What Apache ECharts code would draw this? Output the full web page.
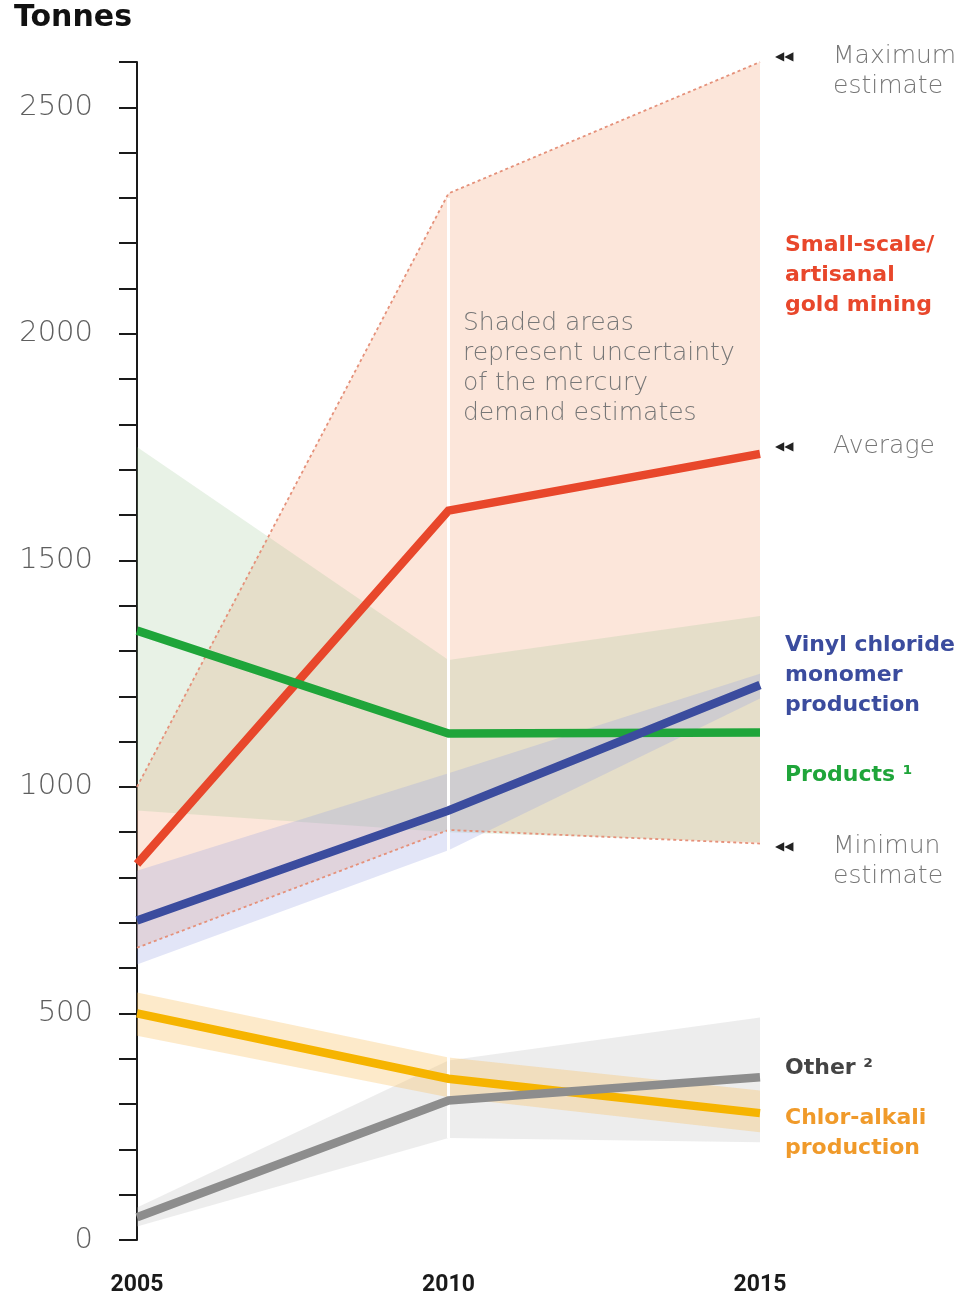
<!DOCTYPE html>
<html>
<head>
<meta charset="utf-8">
<script src="https://cdn.jsdelivr.net/npm/echarts@6/dist/echarts.min.js"></script>
<style>
html,body{margin:0;padding:0;background:#fff;}
#chart{width:980px;height:1303px;}
</style>
</head>
<body>
<div id="chart"></div>
<script>
// ---- data ----
var years = ['2005', '2010', '2015'];
var yTicks = [0, 500, 1000, 1500, 2000, 2500];

var mining     = [830, 1610, 1735];
var miningMax  = [1000, 2310, 2600];
var miningMin  = [645, 905, 875];

var products     = [1345, 1118, 1120];
var productsHigh = [1750, 1280, 1377];
var productsLow  = [948, 900, 878];

var vcm     = [705, 948, 1225];
var vcmHigh = [815, 1030, 1250];
var vcmLow  = [608, 860, 1195];

var chlor     = [500, 356, 280];
var chlorHigh = [546, 403, 330];
var chlorLow  = [451, 315, 238];

var other     = [50, 308, 359];
var otherHigh = [72, 396, 491];
var otherLow  = [30, 225, 216];

function diff(a, b) { return a.map(function (v, i) { return v - b[i]; }); }

function band(id, low, high, color) {
  return [
    { name: id + 'Low', type: 'line', stack: id, data: low, symbol: 'none', z: 1,
      lineStyle: { width: 0, opacity: 0 }, silent: true },
    { name: id + 'Band', type: 'line', stack: id, data: diff(high, low), symbol: 'none', z: 1,
      lineStyle: { width: 0, opacity: 0 }, areaStyle: { color: color, opacity: 1 }, silent: true }
  ];
}

function mainLine(name, data, color, z) {
  return { name: name, type: 'line', data: data, symbol: 'none', z: z,
    lineStyle: { color: color, width: 8.5, cap: 'butt', join: 'miter' } };
}

function dashLine(name, data) {
  return { name: name, type: 'line', data: data, symbol: 'none', z: 3,
    lineStyle: { color: '#e5917a', width: 1.8, type: [3, 3] } };
}

var series = [];
series = series.concat(band('mining', miningMin, miningMax, 'rgba(248,188,158,0.38)'));
series = series.concat(band('products', productsLow, productsHigh, 'rgba(150,195,140,0.22)'));
series = series.concat(band('vcm', vcmLow, vcmHigh, 'rgba(150,160,225,0.28)'));
series = series.concat(band('other', otherLow, otherHigh, 'rgba(190,190,190,0.28)'));
series = series.concat(band('chlor', chlorLow, chlorHigh, 'rgba(250,190,90,0.32)'));
series.push({
  name: 'sep', type: 'line', data: [], z: 2, symbol: 'none',
  markLine: { silent: true, symbol: 'none', label: { show: false },
    lineStyle: { color: '#ffffff', width: 3, type: 'solid' },
    data: [[{ xAxis: '2010', yAxis: 2300 }, { xAxis: '2010', yAxis: 225 }]] }
});
series.push(dashLine('max', miningMax));
series.push(dashLine('min', miningMin));
series.push(mainLine('Small-scale/artisanal gold mining', mining, '#e8472b', 5));
series.push(mainLine('Products', products, '#1fa53a', 6));
series.push(mainLine('Vinyl chloride monomer production', vcm, '#3b4c9e', 7));
series.push(mainLine('Chlor-alkali production', chlor, '#f6b400', 8));
series.push(mainLine('Other', other, '#8d8d8d', 9));

var boldFont = '"DejaVu Sans", "Open Sans", sans-serif';
var lightFont = '"DejaVu Sans", "Open Sans", sans-serif';
function txt(x, y, text, opts) {
  var st = Object.assign({ text: text, fontFamily: lightFont, fontSize: 20,
    fill: '#808080', lineHeight: 30 }, opts || {});
  return { type: 'text', left: x, top: y, style: st, z: 20 };
}
function light(x, y, text) {
  return txt(x, y, text, { fontWeight: 200, fontSize: 25, fill: '#777' });
}
function bold(x, y, text, color) {
  return txt(x, y, text, { fontFamily: boldFont, fontWeight: 'bold', fontSize: 22, fill: color });
}
function arrows(x, y) {
  return { type: 'text', left: x, top: y,
    style: { text: '◀◀', fontFamily: 'DejaVu Sans', fontSize: 12, fill: '#222' }, z: 20 };
}

var chart = echarts.init(document.getElementById('chart'), null, { renderer: 'canvas' });
chart.setOption({
  animation: false,
  backgroundColor: '#ffffff',
  grid: { left: 137, right: 220, top: 62, bottom: 63, containLabel: false },
  xAxis: {
    type: 'category', data: years, boundaryGap: false,
    axisLine: { show: false }, axisTick: { show: false }, splitLine: { show: false },
    axisLabel: { margin: 34, fontFamily: '"Liberation Sans Narrow", "Roboto", sans-serif',
      fontWeight: 'bold', fontSize: 23, color: '#1a1a1a' }
  },
  yAxis: {
    type: 'value', min: 0, max: 2600, interval: 100,
    axisLine: { show: true, lineStyle: { color: '#1a1a1a', width: 2 } },
    axisTick: { show: true, length: 18, lineStyle: { color: '#1a1a1a', width: 2 } },
    splitLine: { show: false },
    axisLabel: { margin: 44, fontFamily: lightFont, fontWeight: 200, fontSize: 29, color: '#5e5e5e',
      formatter: function (v) { return yTicks.indexOf(v) >= 0 ? String(v) : ''; } }
  },
  series: series,
  graphic: [
    { type: 'text', left: 14, top: 3, z: 20,
      style: { text: 'Tonnes', fontFamily: boldFont, fontWeight: 'bold', fontSize: 30, fill: '#111' } },
    arrows(775, 51),
    light(833, 41, 'Maximum\nestimate'),
    bold(785, 230, 'Small-scale/\nartisanal\ngold mining', '#e8472b'),
    arrows(775, 441),
    light(833, 431, 'Average'),
    bold(785, 630, 'Vinyl chloride\nmonomer\nproduction', '#3b4c9e'),
    bold(785, 760, 'Products ¹', '#1fa53a'),
    arrows(775, 841),
    light(833, 831, 'Minimun\nestimate'),
    bold(785, 1053, 'Other ²', '#444'),
    bold(785, 1103, 'Chlor-alkali\nproduction', '#f09a2a'),
    light(463, 308, 'Shaded areas\nrepresent uncertainty\nof the mercury\ndemand estimates')
  ]
});
</script>
</body>
</html>
